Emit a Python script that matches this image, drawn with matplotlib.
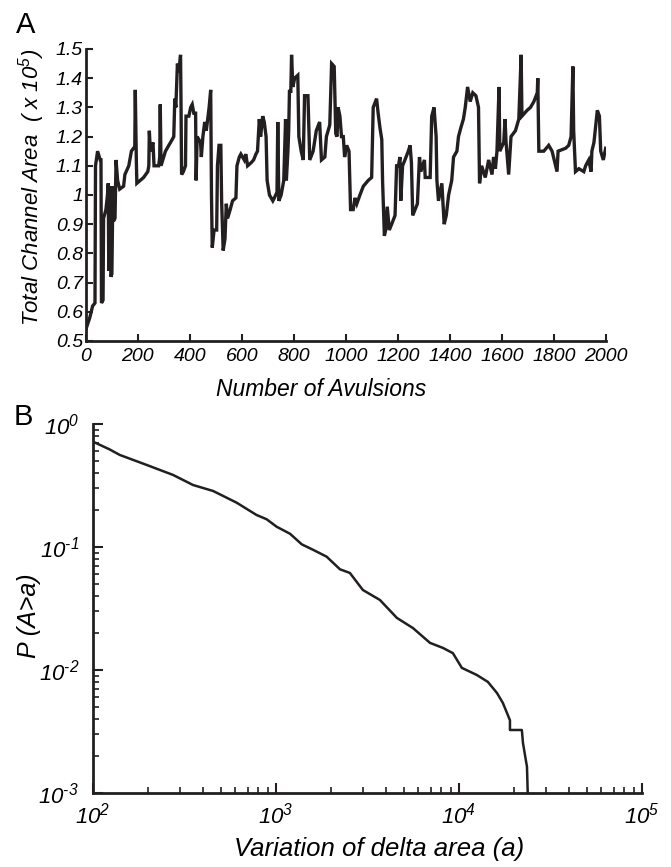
import math
import matplotlib
matplotlib.use('Agg')
import matplotlib.pyplot as plt
from matplotlib.ticker import FixedLocator, FuncFormatter, LogLocator, NullFormatter

plt.rcParams['font.family'] = ['Liberation Sans', 'DejaVu Sans']
plt.rcParams['mathtext.fontset'] = 'custom'
plt.rcParams['mathtext.rm'] = 'Liberation Sans:italic'
plt.rcParams['mathtext.it'] = 'Liberation Sans:italic'
plt.rcParams['mathtext.sf'] = 'Liberation Sans:italic'

LINE = '#231f20'

# panel A: total channel area (x 1e5) vs number of avulsions
avl_n = [0, 15, 26, 35, 37, 45, 55, 58, 60, 66, 68, 77, 83, 86, 88, 92, 96, 100,
         104, 106, 112, 116, 122, 130, 145, 150, 160, 165, 175, 183, 188, 190, 194,
         196, 222, 238, 242, 244, 248, 258, 262, 280, 284, 286, 289, 306, 319, 332,
         338, 342, 346, 352, 358, 364, 366, 368, 375, 383, 385, 396, 403, 409, 415,
         422, 424, 428, 441, 444, 450, 457, 463, 470, 474, 480, 483, 486, 493, 503,
         506, 512, 519, 522, 528, 535, 540, 545, 555, 564, 577, 581, 590, 596, 609,
         615, 622, 635, 645, 654, 660, 667, 672, 680, 686, 693, 697, 706, 719, 725,
         735, 738, 742, 751, 761, 768, 771, 777, 780, 783, 788, 791, 796, 803, 815,
         819, 828, 836, 841, 854, 861, 874, 886, 899, 906, 919, 925, 938, 945, 955,
         961, 966, 970, 977, 983, 990, 995, 1003, 1012, 1018, 1028, 1035, 1042, 1054,
         1067, 1086, 1099, 1105, 1118, 1124, 1131, 1138, 1141, 1148, 1153, 1159, 1167,
         1176, 1189, 1195, 1202, 1208, 1211, 1218, 1227, 1240, 1247, 1252, 1257, 1266,
         1275, 1283, 1288, 1295, 1302, 1305, 1324, 1330, 1339, 1347, 1350, 1356, 1369,
         1378, 1386, 1395, 1407, 1414, 1427, 1433, 1442, 1452, 1459, 1468, 1478, 1488,
         1500, 1510, 1514, 1522, 1536, 1549, 1562, 1568, 1575, 1581, 1589, 1592, 1607,
         1612, 1616, 1626, 1635, 1652, 1665, 1674, 1677, 1697, 1710, 1723, 1736, 1738,
         1742, 1761, 1780, 1793, 1812, 1816, 1845, 1857, 1866, 1873, 1876, 1883, 1896,
         1915, 1922, 1934, 1943, 1946, 1954, 1967, 1975, 1980, 1990, 1999]
area_total = [0.54, 0.58, 0.62, 0.63, 1.10, 1.15, 1.12, 1.12, 0.63, 0.64, 0.92, 0.95, 1.00, 1.04, 0.74, 1.03, 0.72, 0.73,
              1.03, 0.91, 0.92, 1.12, 1.05, 1.02, 1.03, 1.07, 1.09, 1.10, 1.15, 1.16, 1.16, 1.36, 1.12,
              1.04, 1.06, 1.08, 1.10, 1.22, 1.15, 1.18, 1.10, 1.10, 1.13, 1.31, 1.10, 1.15, 1.17, 1.19,
              1.20, 1.33, 1.30, 1.45, 1.42, 1.48, 1.30, 1.07, 1.08, 1.10, 1.27, 1.27, 1.30, 1.31, 1.28,
              1.28, 1.05, 1.20, 1.18, 1.13, 1.20, 1.25, 1.22, 1.27, 1.30, 1.36, 1.00, 0.82, 0.88, 0.88,
              1.10, 1.17, 1.17, 0.98, 0.81, 0.85, 0.97, 0.92, 0.95, 0.98, 0.99, 1.10, 1.13, 1.14, 1.12,
              1.14, 1.10, 1.11, 1.12, 1.14, 1.15, 1.26, 1.20, 1.27, 1.25, 1.20, 1.05, 1.00, 0.98, 0.99,
              1.01, 1.25, 0.98, 1.00, 1.05, 1.26, 1.05, 1.15, 1.22, 1.36, 1.35, 1.48, 1.37, 1.40, 1.41,
              1.20, 1.15, 1.12, 1.34, 1.34, 1.12, 1.15, 1.22, 1.25, 1.12, 1.13, 1.20, 1.24, 1.45, 1.44,
              1.21, 1.20, 1.30, 1.27, 1.20, 1.20, 1.13, 1.17, 1.15, 0.95, 0.95, 0.99, 0.97, 1.00,
              1.03, 1.05, 1.06, 1.30, 1.33, 1.28, 1.23, 1.19, 1.05, 0.86, 0.88, 0.96, 0.88,
              0.90, 0.93, 1.10, 1.10, 1.13, 0.98, 1.10, 1.12, 1.15, 1.17, 1.11, 0.93, 0.95,
              0.97, 1.13, 1.08, 1.10, 1.12, 1.06, 1.06, 1.27, 1.30, 1.20, 1.05, 0.98, 1.04,
              0.90, 0.93, 1.00, 1.05, 1.13, 1.15, 1.20, 1.23, 1.26, 1.30, 1.37, 1.32, 1.35,
              1.34, 1.30, 1.04, 1.10, 1.06, 1.12, 1.07, 1.13, 1.09, 1.15, 1.37, 1.15, 1.18,
              1.26, 1.18, 1.07, 1.20, 1.22, 1.26, 1.48, 1.27, 1.29, 1.30, 1.32, 1.35, 1.40,
              1.15, 1.15, 1.17, 1.15, 1.08, 1.15, 1.16, 1.17, 1.20, 1.44, 1.22, 1.08, 1.09,
              1.08, 1.10, 1.12, 1.08, 1.15, 1.18, 1.29, 1.27, 1.15, 1.12, 1.16]

a_xticks = [0, 200, 400, 600, 800, 1000, 1200, 1400, 1600, 1800, 2000]
a_yticks = [0.5, 0.6, 0.7, 0.8, 0.9, 1.0, 1.1, 1.2, 1.3, 1.4, 1.5]

# panel B: exceedance probability of delta area variation
delta_area = [100, 123, 140, 196, 274, 352, 454, 610, 783, 889, 1009, 1194, 1384, 1600,
              1892, 2239, 2535, 2985, 3698, 4581, 5610, 6950, 8185, 9268, 10375, 12530,
              14390, 16140, 17380, 19010, 19010, 22080, 22390, 23550, 23820]
p_exceed = [0.718, 0.622, 0.560, 0.465, 0.385, 0.319, 0.285, 0.229, 0.182, 0.168, 0.146,
            0.128, 0.105, 0.0946, 0.0834, 0.0658, 0.0615, 0.0447, 0.0371, 0.0265, 0.0219,
            0.0166, 0.0151, 0.0137, 0.0104, 0.0091, 0.0080, 0.0065, 0.0054, 0.0039,
            0.00325, 0.00325, 0.00255, 0.00163, 0.0009]

fig = plt.figure(figsize=(6.71, 8.67), dpi=100)

# ---- A ----
ax1 = fig.add_axes([0.128, 0.6067, 0.775, 0.3368])
ax1.plot(avl_n, area_total, color=LINE, lw=2.4, solid_joinstyle='miter')
ax1.set_xlim(0, 2000)
ax1.set_ylim(0.5, 1.5)
for s in ['top', 'right']:
    ax1.spines[s].set_visible(False)
for s in ['left', 'bottom']:
    ax1.spines[s].set_linewidth(2.0)
    ax1.spines[s].set_color(LINE)
ax1.xaxis.set_major_locator(FixedLocator(a_xticks))
ax1.yaxis.set_major_locator(FixedLocator(a_yticks))
ax1.yaxis.set_major_formatter(FuncFormatter(lambda v, p: '1' if abs(v - 1) < 1e-9 else '%.1f' % v))
ax1.tick_params(direction='in', length=5, width=1.5, color=LINE, labelsize=14, pad=2)
ax1.tick_params(axis='x', pad=5)
for lab in ax1.get_xticklabels() + ax1.get_yticklabels():
    lab.set_fontstyle('italic')
ax1.set_xlabel('Number of Avulsions', fontsize=16.5, style='italic')
ax1.xaxis.set_label_coords(0.452, -0.127)
ax1.xaxis.label.set_va('top')
ax1.set_ylabel('Total Channel Area  ( x 10$^{5}$)', fontsize=16, style='italic')
ax1.yaxis.set_label_coords(-0.075, 0.527)

# ---- B ----
ax2 = fig.add_axes([0.1386, 0.0854, 0.818, 0.4256])
ax2.plot(delta_area, p_exceed, color=LINE, lw=1.8)
ax2.set_xscale('log')
ax2.set_yscale('log')
ax2.set_xlim(1e2, 1e5)
ax2.set_ylim(1e-3, 1e0)
for s in ['top', 'right']:
    ax2.spines[s].set_visible(False)
for s in ['left', 'bottom']:
    ax2.spines[s].set_linewidth(2.0)
    ax2.spines[s].set_color(LINE)
ax2.xaxis.set_major_locator(LogLocator(base=10, numticks=10))
ax2.yaxis.set_major_locator(LogLocator(base=10, numticks=10))
ax2.xaxis.set_minor_locator(LogLocator(base=10, subs=range(2, 10), numticks=10))
ax2.yaxis.set_minor_locator(LogLocator(base=10, subs=range(2, 10), numticks=10))
ax2.xaxis.set_minor_formatter(NullFormatter())
ax2.yaxis.set_minor_formatter(NullFormatter())


def pow_label(v, p):
    e = round(math.log10(v))
    s = str(e).replace('-', '\u2010')
    return r'$10^{%s}$' % s


ax2.xaxis.set_major_formatter(FuncFormatter(pow_label))
ax2.yaxis.set_major_formatter(FuncFormatter(pow_label))
ax2.tick_params(which='major', direction='in', length=7, width=1.5, color=LINE, labelsize=16)
ax2.tick_params(which='minor', direction='in', length=4, width=1.2, color=LINE)
ax2.tick_params(axis='x', which='major', pad=7)
ax2.tick_params(axis='y', which='major', pad=10)
ax2.set_xlabel('Variation of delta area (a)', fontsize=18.5, style='italic')
ax2.xaxis.set_label_coords(0.522, -0.12)
ax2.xaxis.label.set_va('top')
ax2.set_ylabel('P (A>a)', fontsize=18, style='italic')
ax2.yaxis.set_label_coords(-0.095, 0.48)

fig.text(16 / 671, 1 - 33 / 867, 'A', fontsize=21)
fig.text(14 / 671, 1 - 425 / 867, 'B', fontsize=21)

fig.savefig('out.png', dpi=100, facecolor='white')
